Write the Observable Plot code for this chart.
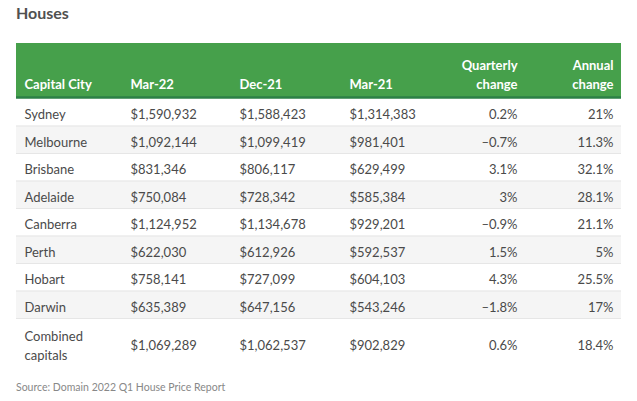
<!DOCTYPE html>
<html><head><meta charset="utf-8">
<script src="https://cdn.jsdelivr.net/npm/d3@7"></script>
<script src="https://cdn.jsdelivr.net/npm/@observablehq/plot@0.6"></script>
<style>
body{margin:0;background:#fff;font-family:Lato,sans-serif}
#wrap{position:relative;width:637px;height:401px;overflow:hidden}
#title{position:absolute;left:16px;top:3px;font-weight:700;font-size:16px;color:#505050}
#src{position:absolute;left:16px;top:381px;font-size:10.5px;color:#888}
</style></head><body>
<div id="wrap"><div id="chart"></div><div id="title">Houses</div><div id="src">Source: Domain 2022 Q1 House Price Report</div></div>
<script>
const cities = ["Sydney","Melbourne","Brisbane","Adelaide","Canberra","Perth","Hobart","Darwin","Combined\ncapitals"];
const mar22 = [1590932,1092144,831346,750084,1124952,622030,758141,635389,1069289];
const dec21 = [1588423,1099419,806117,728342,1134678,612926,727099,647156,1062537];
const mar21 = [1314383,981401,629499,585384,929201,592537,604103,543246,902829];
const quarterly = [0.2,-0.7,3.1,3,-0.9,1.5,4.3,-1.8,0.6];
const annual = [21,11.3,32.1,28.1,21.1,5,25.5,17,18.4];
const headers = ["Capital City","Mar-22","Dec-21","Mar-21","Quarterly\nchange","Annual\nchange"];

// layout
const colX = [24,130,239,349,517,613];
const colAlign = ["start","start","start","start","end","end"];
const tableL = 16, tableR = 621;
const rowSpan = cities.map((c,i)=> i===cities.length-1 ? 1.8 : 1);

const money = v => "$" + d3.format(",")(v);
const pct = v => (v < 0 ? "\u2013" + Math.abs(v) : String(v)) + "%";

let acc = 2;
const rows = cities.map((c,i)=>{
  const r = {i, top: acc, bottom: acc + rowSpan[i], cells:[c, money(mar22[i]), money(dec21[i]), money(mar21[i]), pct(quarterly[i]), pct(annual[i])]};
  acc += rowSpan[i];
  return r;
});

const green = "#46a04b", dark = "#2c8046";
const marks = [
  Plot.rect([0], {x1: tableL, x2: tableR, y1: 0, y2: 2, fill: green}),
  Plot.ruleY([2], {x1: tableL, x2: tableR, stroke: dark, strokeWidth: 2.5, dy: -1}),
  Plot.rect(rows.filter(r=>r.i%2===1), {x1: tableL, x2: tableR, y1: "top", y2: "bottom", fill: "#f5f5f5"}),
  Plot.ruleY(rows.slice(1), {y: "top", x1: tableL, x2: tableR, stroke: "#e6e6e6"})
];
headers.forEach((h,c)=>{
  marks.push(Plot.text([h], {x: colX[c], y: 2, text: d=>d, textAnchor: colAlign[c], lineAnchor: "bottom", dy: -10, fill: "#fff", fontWeight: "bold", fontSize: 13, lineHeight: 1.45}));
  marks.push(Plot.text(rows, {x: colX[c], y: d=>(d.top+d.bottom)/2, text: d=>d.cells[c], textAnchor: colAlign[c], lineAnchor: "middle", dy: 1, fill: "#4a4a4a", fontSize: 13, lineHeight: 1.45}));
});

const chart = Plot.plot({
  width: 637, height: 401, margin: 0,
  x: {domain: [0,637], range: [0,637], axis: null},
  y: {domain: [0,12], range: [43,373], axis: null},
  style: {fontFamily: "Lato, sans-serif", background: "transparent"},
  marks
});
document.getElementById("chart").appendChild(chart);
</script>
</body></html>
